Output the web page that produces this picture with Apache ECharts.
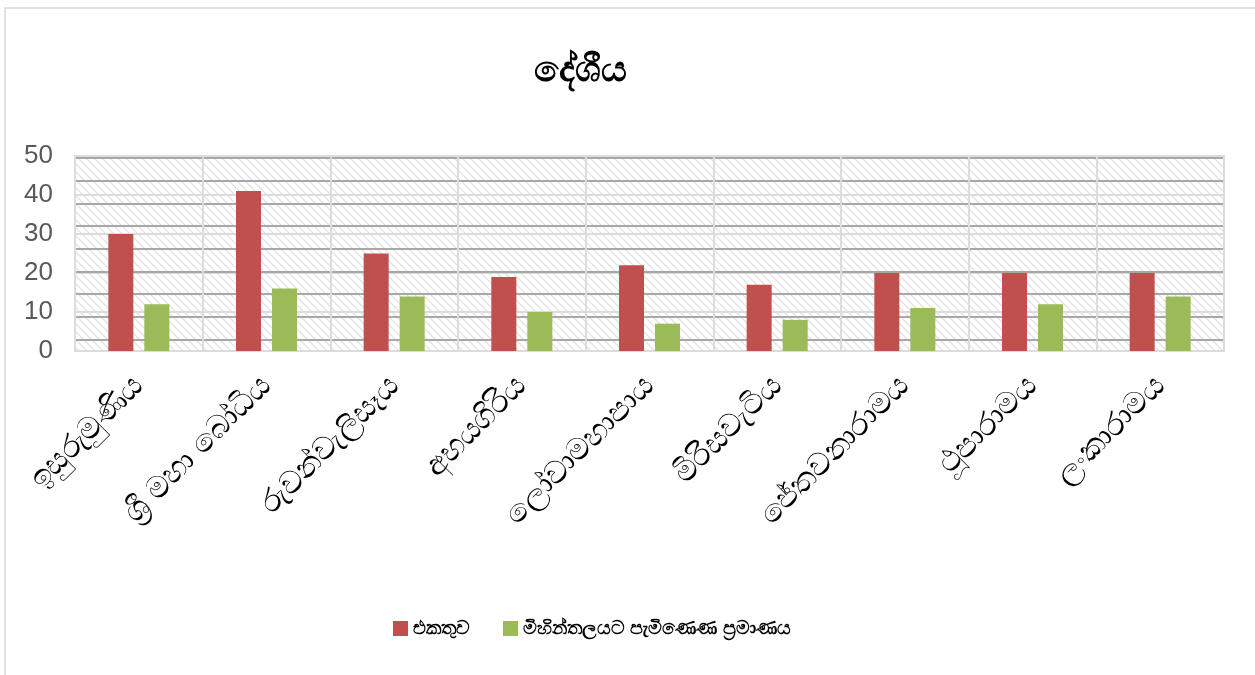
<!DOCTYPE html>
<html>
<head>
<meta charset="utf-8">
<script src="https://cdn.jsdelivr.net/npm/echarts@6/dist/echarts.min.js"></script>
<style>
  html, body { margin: 0; padding: 0; background: #fff; }
  #chart { width: 1255px; height: 675px; }
</style>
</head>
<body>
<div id="chart"></div>
<script>
    const categories = ['ඉසුරුමුණිය', 'ශ්‍රී මහා බෝධිය', 'රුවන්වැලිසෑය', 'අභයගිරිය', 'ලෝවාමහාපාය', 'මිරිසවැටිය', 'ජේතවනාරාමය', 'ථූපාරාමය', 'ලංකාරාමය']
    const seriesNames = ['එකතුව', 'මිහින්තලයට පැමිණෙණ ප්‍රමාණය']
    const totalValues = [30, 41, 25, 19, 22, 17, 20, 20, 20]
    const mihintaleValues = [12, 16, 14, 10, 7, 8, 11, 12, 14]
    const yTicks = [0, 10, 20, 30, 40, 50]

    // hatched fill like the excel plot area
    function makeHatch() {
        const c = document.createElement('canvas')
        c.width = 8
        c.height = 8
        const ctx = c.getContext('2d')
        ctx.fillStyle = '#ffffff'
        ctx.fillRect(0, 0, 8, 8)
        ctx.strokeStyle = '#e2e2e2'
        ctx.lineWidth = 1.3
        ctx.beginPath()
        ctx.moveTo(-1, -1); ctx.lineTo(9, 9)
        ctx.moveTo(7, -1); ctx.lineTo(9, 1)
        ctx.moveTo(-1, 7); ctx.lineTo(1, 9)
        ctx.stroke()
        return c
    }

    const chart = echarts.init(document.getElementById('chart'))
    chart.setOption({
        animation: false,
        title: {
            text: 'දේශීය',
            left: 575,
            textAlign: 'center',
            top: 48,
            textStyle: { fontSize: 36, fontWeight: 'bold', color: '#000' }
        },
        graphic: [{
            type: 'rect',
            shape: { x: 5, y: 8, width: 1260, height: 680 },
            style: { fill: 'none', stroke: '#d9d9d9', lineWidth: 1.5 },
            silent: true
        }],
        legend: {
            data: seriesNames,
            left: 388,
            top: 614,
            itemWidth: 15,
            itemHeight: 15,
            itemGap: 33,
            icon: 'rect',
            textStyle: { fontSize: 19, fontWeight: 'bold', color: '#000' }
        },
        grid: {
            left: 75,
            right: 31,
            top: 156,
            bottom: 324,
            show: true,
            backgroundColor: { image: makeHatch(), repeat: 'repeat' },
            borderColor: '#dcdcdc',
            borderWidth: 2
        },
        xAxis: {
            type: 'category',
            data: categories,
            axisTick: { show: false },
            axisLine: { show: false },
            axisLabel: {
                interval: 0,
                rotate: 45,
                fontSize: 31,
                color: '#000',
                margin: 30
            },
            splitLine: { show: true, lineStyle: { color: '#dcdcdc', width: 2 } }
        },
        yAxis: [
            {
                type: 'value',
                min: yTicks[0],
                max: yTicks[yTicks.length - 1],
                interval: 10,
                axisLine: { show: false },
                axisTick: { show: false },
                axisLabel: {
                    fontSize: 26,
                    fontFamily: 'Liberation Sans',
                    color: '#595959',
                    margin: 22
                },
                splitLine: { show: true, lineStyle: { color: '#dcdcdc', width: 2 } }
            },
            {
                // darker stripes of the fill pattern
                type: 'value',
                min: 0,
                max: 8.59,
                interval: 0.5,
                position: 'right',
                axisLine: { show: false },
                axisTick: { show: false },
                axisLabel: { show: false },
                splitLine: { show: true, lineStyle: { color: ['rgba(0,0,0,0)', '#a8a8a8'], width: 2 } }
            }
        ],
        series: [
            {
                name: seriesNames[0],
                type: 'bar',
                data: totalValues,
                barWidth: 25,
                barGap: '44%',
                itemStyle: { color: '#C0504D' }
            },
            {
                name: seriesNames[1],
                type: 'bar',
                data: mihintaleValues,
                barWidth: 25,
                itemStyle: { color: '#9BBB59' }
            }
        ]
    })
</script>
</body>
</html>
